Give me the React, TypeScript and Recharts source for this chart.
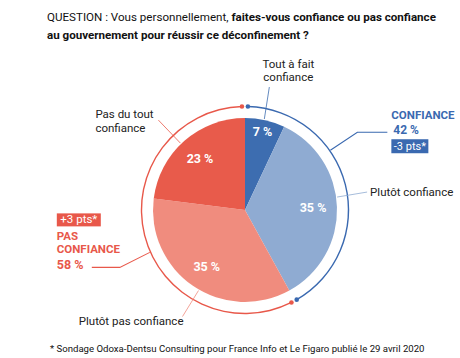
import { PieChart, Pie, Cell } from "recharts"

const categories = ["Tout à fait\nconfiance", "Plutôt confiance", "Plutôt pas confiance", "Pas du tout\nconfiance"]
const values = [7, 35, 35, 23]
const sliceColors = ["#3d6db0", "#8fabd2", "#f08c7e", "#e85b4b"]

const groups = ["CONFIANCE", "PAS\nCONFIANCE"]
const groupValues = [42, 58]
const groupChanges = ["-3 pts*", "+3 pts*"]
const groupColors = ["#3a69b0", "#e8584a"]

const data = categories.map((name, i) => ({ name, value: values[i] }))
const ringData = groups.map((name, i) => ({ name, value: groupValues[i], change: groupChanges[i] }))

const FONT = "Roboto, 'Helvetica Neue', Arial, sans-serif"
const RAD = Math.PI / 180
// recharts angles: counter-clockwise from 3 o'clock
const polar = (cx: number, cy: number, r: number, a: number) => ({
  x: cx + r * Math.cos(-a * RAD),
  y: cy + r * Math.sin(-a * RAD),
})

// leader lines: clockwise angle where it leaves the pie, then offset to its end
const leaders = [
  { deg: 12, dx: 5, dy: -32 },
  { deg: 82, dx: 30, dy: -5 },
  { deg: 210, dx: -16, dy: 26 },
  { deg: 316, dx: -22, dy: -23 },
]

function SliceLabel(props: any) {
  const { cx, cy, midAngle, outerRadius, percent, index, name, value } = props
  const c = polar(cx, cy, outerRadius * (percent < 0.1 ? 0.87 : 0.74), midAngle)
  const l = leaders[index]
  const a = polar(cx, cy, outerRadius + 1, 90 - l.deg)
  const b = { x: a.x + l.dx, y: a.y + l.dy }
  const lines = String(name).split("\n")
  const color = sliceColors[index]
  let text
  if (index === 0) {
    text = (
      <text x={b.x + 19} y={b.y - 19} textAnchor="middle" fontSize={11.5} fill="#222" fontFamily={FONT}>
        <tspan x={b.x + 19}>{lines[0]}</tspan>
        <tspan x={b.x + 19} dy={13}>{lines[1]}</tspan>
      </text>
    )
  } else if (index === 1) {
    text = (
      <text x={b.x + 3} y={b.y + 4} fontSize={11.5} fill="#222" fontFamily={FONT}>{lines[0]}</text>
    )
  } else if (index === 2) {
    text = (
      <text x={b.x + 1} y={b.y + 8} textAnchor="end" fontSize={11.5} fill="#222" fontFamily={FONT}>{lines[0]}</text>
    )
  } else {
    text = (
      <text x={b.x - 63} y={b.y - 2} fontSize={11.5} fill="#222" fontFamily={FONT}>
        <tspan x={b.x - 63}>{lines[0]}</tspan>
        <tspan x={b.x - 63} dy={14}>{lines[1]}</tspan>
      </text>
    )
  }
  return (
    <g>
      <text x={c.x} y={c.y} textAnchor="middle" dominantBaseline="central" fill="#fff" fontWeight="bold" fontSize={12.5} fontFamily={FONT}>
        {value} %
      </text>
      <line x1={a.x} y1={a.y} x2={b.x} y2={b.y} stroke={color} strokeWidth={0.8} />
      {text}
    </g>
  )
}

function GroupLabel(props: any) {
  const { cx, cy, innerRadius, outerRadius, startAngle, endAngle, index, name, value, change } = props
  const r = (innerRadius + outerRadius) / 2
  const color = groupColors[index]
  const s = polar(cx, cy, r, startAngle)
  const e = polar(cx, cy, r, endAngle)
  const dots = (
    <>
      <circle cx={s.x} cy={s.y} r={2.3} fill={color} />
      <circle cx={e.x} cy={e.y} r={2.3} fill={color} />
    </>
  )
  const words = String(name).split("\n")
  if (index === 0) {
    const p = polar(cx, cy, outerRadius, 90 - 55)
    const el = { x: p.x + 27, y: p.y - 18 }
    const f = { x: el.x + 30, y: el.y }
    return (
      <g fontFamily={FONT}>
        {dots}
        <polyline points={`${p.x},${p.y} ${el.x},${el.y} ${f.x},${f.y}`} fill="none" stroke={color} strokeWidth={1.1} />
        <text x={f.x + 4} y={f.y - 13} fill={color} fontWeight="bold" fontSize={11.5}>{words[0]}</text>
        <text x={f.x + 6} y={f.y + 1.5} fill={color} fontWeight="bold" fontSize={12}>{value} %</text>
        <rect x={f.x + 4} y={f.y + 7} width={37} height={14} fill={color} />
        <text x={f.x + 22.5} y={f.y + 18} textAnchor="middle" fill="#fff" fontSize={11}>{change}</text>
      </g>
    )
  }
  const p = polar(cx, cy, outerRadius, 90 - 246)
  const el = { x: p.x - 30, y: p.y + 15 }
  const f = { x: el.x - 28, y: el.y }
  const tx = f.x - 35
  return (
    <g fontFamily={FONT}>
      {dots}
      <polyline points={`${p.x},${p.y} ${el.x},${el.y} ${f.x},${f.y}`} fill="none" stroke={color} strokeWidth={1.1} />
      <rect x={tx} y={f.y - 54} width={44} height={13} fill={color} />
      <text x={tx + 22} y={f.y - 44} textAnchor="middle" fill="#fff" fontSize={11.5}>{change}</text>
      <text x={tx} y={f.y - 27} fill={color} fontWeight="bold" fontSize={11.5}>{words[0]}</text>
      <text x={tx} y={f.y - 14} fill={color} fontWeight="bold" fontSize={11.5}>{words[1]}</text>
      <text x={tx} y={f.y + 2} fill={color} fontWeight="bold" fontSize={12.5}>{value} %</text>
    </g>
  )
}

export default function App() {
  return (
    <div style={{ position: "absolute", left: 0, top: 0, width: 460, height: 358, background: "#fff", fontFamily: FONT }}>
      <div style={{ position: "absolute", left: 47, top: 9, width: 412, fontSize: 11.6, lineHeight: "17.5px", color: "#111", whiteSpace: "nowrap" }}>
        QUESTION : Vous personnellement, <b>faites-vous confiance ou pas confiance</b>
        <br />
        <b>au gouvernement pour réussir ce déconfinement ?</b>
      </div>
      <PieChart width={460} height={358} margin={{ top: 0, right: 0, bottom: 0, left: 0 }}>
        <Pie
          data={ringData}
          dataKey="value"
          cx={245}
          cy={210}
          innerRadius={102.8}
          outerRadius={104.2}
          startAngle={88.4}
          endAngle={-271.6}
          paddingAngle={3.3}
          stroke="none"
          label={GroupLabel}
          labelLine={false}
          isAnimationActive={false}
        >
          {ringData.map((d, i) => (
            <Cell key={d.name} fill={groupColors[i]} />
          ))}
        </Pie>
        <Pie
          data={data}
          dataKey="value"
          cx={245}
          cy={210}
          outerRadius={92}
          startAngle={90}
          endAngle={-270}
          stroke="none"
          label={SliceLabel}
          labelLine={false}
          isAnimationActive={false}
        >
          {data.map((d, i) => (
            <Cell key={d.name} fill={sliceColors[i]} />
          ))}
        </Pie>
      </PieChart>
      <div style={{ position: "absolute", left: 50, top: 343, fontSize: 9.6, color: "#111", whiteSpace: "nowrap" }}>
        * Sondage Odoxa-Dentsu Consulting pour France Info et Le Figaro publié le 29 avril 2020
      </div>
    </div>
  )
}
